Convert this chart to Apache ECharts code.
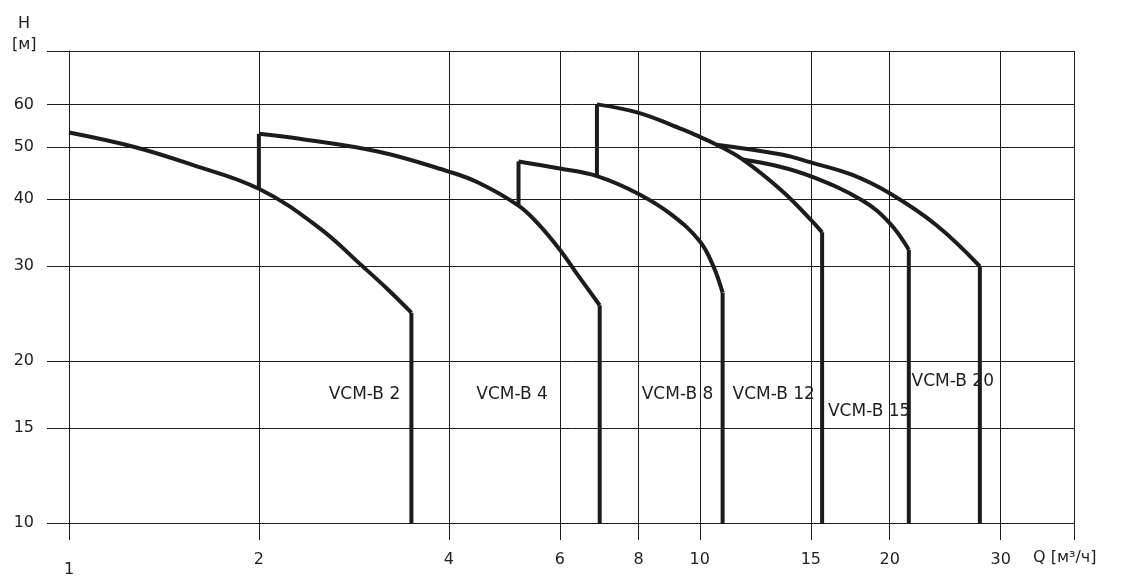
<!DOCTYPE html>
<html>
<head>
<meta charset="utf-8">
<script src="https://cdn.jsdelivr.net/npm/echarts@6/dist/echarts.min.js"></script>
<style>
html,body{margin:0;padding:0;background:#fff;}
#chart{width:1125px;height:580px;}
</style>
</head>
<body>
<div id="chart"></div>
<script>
// ---- data (Q in m3/h, H in m) ----
const seriesNames = ['VCM-B 2', 'VCM-B 4', 'VCM-B 8', 'VCM-B 12', 'VCM-B 15', 'VCM-B 20'];
const q2  = [1,    1.27, 1.57, 2,    2.49, 2.92, 3.20, 3.49, 3.49];
const h2  = [53.2, 50,   46.3, 41.8, 35.4, 30,   27.2, 24.6, 10];
const q4  = [2,    2,    2.32, 3.10, 4,    4.46, 5.16, 5.54, 6.0,  6.42, 6.94, 6.94];
const h4  = [41.8, 52.9, 51.8, 49.0, 45.0, 42.9, 38.9, 36.0, 32.2, 28.8, 25.4, 10];
const q8  = [5.16, 5.16, 6.0,  6.89, 8,    9.03, 10,   10.51, 10.87, 10.87];
const h8  = [38.9, 47.0, 45.6, 44.1, 40.9, 37.4, 33.4, 30,    26.8,  10];
const q12 = [6.87, 6.87, 7.98, 9.39, 10,   10.63, 11.69, 13.48, 15,   15.63, 15.63];
const h12 = [44.1, 60,   57.9, 53.9, 52.2, 50.5,  47.4,  41.5,  36.6, 34.7,  10];
const q15 = [11.69, 13.16, 15,   18.08, 20,   21.45, 21.45];
const h15 = [47.4,  46.2,  44.1, 39.8,  36.1, 32.2,  10];
const q20 = [10.63, 13.48, 15,   17.42, 20,   23.7, 27.8, 27.8];
const h20 = [50.5,  48.4,  46.8, 44.4,  41.0, 35.8, 30,   10];

// label anchor points (Q, H)
const labelQ = [2.94, 5.04, 9.22, 13.10, 18.56, 25.18];
const labelH = [17.3, 17.3, 17.3, 17.3,  16.1,  18.3];

// axes
const xTicks = [1, 2, 4, 6, 8, 10, 15, 20, 30];
const yTicks = [10, 15, 20, 30, 40, 50, 60];
const xMin = 1, xMax = 39.2;
const yMin = 10, yMax = 75.4;

const qs = [q2, q4, q8, q12, q15, q20];
const hs = [h2, h4, h8, h12, h15, h20];

const font = 'DejaVu Sans, Verdana, sans-serif';
const ink = '#1c1c1c';
const txt = '#1e1e1e';
const lineStyle = { color: ink, width: 4, join: 'miter', cap: 'butt' };

function lineSeries(name, pts, smooth) {
  return {
    name: name,
    type: 'line',
    data: pts,
    showSymbol: false,
    symbol: 'none',
    smooth: smooth,
    clip: false,
    lineStyle: lineStyle,
    emphasis: { disabled: true },
    z: 5
  };
}

const series = [];
seriesNames.forEach((name, i) => {
  const pts = qs[i].map((q, j) => [q, hs[i][j]]);
  const n = pts.length;
  let a = 0, b = n - 1;
  if (pts[0][0] === pts[1][0]) { series.push(lineSeries(name + ' rise', pts.slice(0, 2), false)); a = 1; }
  if (pts[n - 1][0] === pts[n - 2][0]) { series.push(lineSeries(name + ' drop', pts.slice(n - 2), false)); b = n - 2; }
  series.push(lineSeries(name, pts.slice(a, b + 1), 0.4));
});

series.push({
  name: 'labels',
  type: 'scatter',
  symbolSize: 0,
  itemStyle: { color: '#000', opacity: 1 },
  emphasis: { disabled: true },
  data: seriesNames.map((n, i) => ({ value: [labelQ[i], labelH[i]], name: n })),
  label: {
    show: true,
    position: 'inside',
    formatter: p => p.name,
    color: txt,
    fontFamily: font,
    fontSize: 17
  },
  z: 10
});

const chart = echarts.init(document.getElementById('chart'), null, { renderer: 'canvas' });
chart.setOption({
  backgroundColor: '#fff',
  animation: false,
  grid: { left: 69, right: 51, top: 51, bottom: 57, containLabel: false, outerBoundsMode: 'none' },
  xAxis: {
    type: 'log',
    min: xMin,
    max: xMax,
    logBase: 10,
    axisLine: { show: true, lineStyle: { color: ink, width: 1 } },
    axisTick: { show: true, inside: false, length: 17, lineStyle: { color: ink, width: 1 }, customValues: xTicks.concat([xMax]) },
    splitLine: { show: true, lineStyle: { color: ink, width: 1 } },
    minorTick: { show: false },
    minorSplitLine: { show: false },
    axisLabel: {
      customValues: xTicks,
      margin: 29,
      color: txt,
      fontFamily: font,
      fontSize: 16,
      formatter: v => (Math.abs(v - 1) < 1e-9 ? '{low|1}' : String(Math.round(v))),
      rich: { low: { fontFamily: font, fontSize: 16, color: txt, padding: [10, 0, 0, 0] } }
    }
  },
  yAxis: {
    type: 'log',
    min: yMin,
    max: yMax,
    logBase: 10,
    axisLine: { show: true, lineStyle: { color: ink, width: 1 } },
    axisTick: { show: true, inside: false, length: 22, lineStyle: { color: ink, width: 1 }, customValues: yTicks.concat([yMax]) },
    splitLine: { show: true, lineStyle: { color: ink, width: 1 } },
    minorTick: { show: false },
    minorSplitLine: { show: false },
    axisLabel: {
      customValues: yTicks,
      margin: 35,
      color: txt,
      fontFamily: font,
      fontSize: 16,
      padding: [14, 0, 0, 0],
      formatter: v => String(Math.round(v))
    }
  },
  graphic: [
    { type: 'text', left: 18, top: 16, style: { text: 'H', font: '16px ' + font, fill: txt } },
    { type: 'text', left: 12, top: 37, style: { text: '[м]', font: '16px ' + font, fill: txt } },
    { type: 'text', left: 1033, top: 550, style: { text: 'Q [м³/ч]', font: '16px ' + font, fill: txt } }
  ],
  series: series
});
</script>
</body>
</html>
